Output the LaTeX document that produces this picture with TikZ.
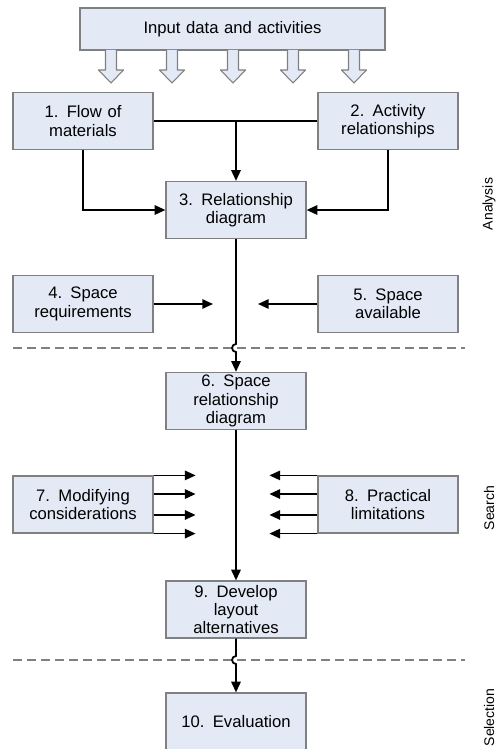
\documentclass[tikz,border=0pt]{standalone}
\usepackage{fontspec}
\setmainfont{Liberation Sans}
\usetikzlibrary{arrows.meta,calc}
\definecolor{boxfill}{RGB}{227,234,246}
\definecolor{boxedge}{RGB}{128,128,128}
\tikzset{
      stepbox/.style={
        draw=boxedge,
        line width=0.9pt,
        fill=boxfill,
        minimum width=105pt,
        minimum height=42.75pt,
        text width=100pt,
        align=center,
        inner sep=2pt,
        font=\fontsize{12.5}{13.8}\selectfont
      },
      flowline/.style={-{Triangle[length=8pt,width=7pt]}, line width=1.3pt},
      plainline/.style={line width=1.3pt},
      sepline/.style={draw=gray, line width=1.1pt, dash pattern=on 6.5pt off 4pt},
      blockarrow/.style={draw=boxedge, line width=0.8pt, fill=boxfill, line join=round},
      phase/.style={rotate=90, font=\fontsize{10.5}{12}\selectfont}
    }

\begin{document}
\begin{tikzpicture}[x=0.75pt,y=-0.75pt]
    \useasboundingbox (0,0) rectangle (498,749);
    \node[stepbox, minimum width=228.75pt, minimum height=31.5pt, text width=220pt] (inp) at (232.5,29) {Input data and activities};
    \foreach \x in {111,172,233,293,354}
      \draw[blockarrow] (\x-5.5,50) -- (\x-5.5,70) -- (\x-12.5,70) -- (\x,83) -- (\x+12.5,70) -- (\x+5.5,70) -- (\x+5.5,50);
    \node[stepbox] (s1) at (83,121) {1.\enspace Flow of\\materials};
    \node[stepbox] (s2) at (388,121) {2.\enspace Activity\\relationships};
    \node[stepbox] (s3) at (236,210) {3.\enspace Relationship\\diagram};
    \node[stepbox] (s4) at (83,304) {4.\enspace Space\\requirements};
    \node[stepbox] (s5) at (388,304) {5.\enspace Space\\available};
    \node[stepbox] (s6) at (236,401) {6.\enspace Space\\relationship\\diagram};
    \node[stepbox] (s7) at (83,504.5) {7.\enspace Modifying\\considerations};
    \node[stepbox] (s8) at (388,504.5) {8.\enspace Practical\\limitations};
    \node[stepbox] (s9) at (236,609.5) {9.\enspace Develop\\layout\\alternatives};
    \node[stepbox] (s10) at (236,721.5) {10.\enspace Evaluation};
    \node[phase] (ph1) at (489,204) {Analysis};
    \node[phase] (ph2) at (489,508) {Search};
    \node[phase, anchor=east] (ph3) at (489,684) {Selection};
    \draw[sepline] (13,348) -- (465,348);
    \draw[sepline] (13,660) -- (465,660);
    \coordinate (j1) at (s3.north |- s1.east);
    \coordinate (e4) at (213,304);
    \coordinate (e5) at (258,304);
    \coordinate (h1) at (236,348);
    \coordinate (h2) at (236,660);
    \draw[plainline] (s1.east) -- (s2.west);
    \draw[flowline] (j1) -- (s3.north);
    \draw[flowline] (s1.south) |- (s3.west);
    \draw[flowline] (s2.south) |- (s3.east);
    \draw[flowline] (s4.east) -- (e4);
    \draw[flowline] (s5.west) -- (e5);
    \draw[flowline] (s3.south) -- ([yshift=3pt]h1) arc[start angle=90, end angle=270, radius=3pt] -- (s6.north);
    \draw[flowline] (s6.south) -- (s9.north);
    \draw[flowline] (s9.south) -- ([yshift=3pt]h2) arc[start angle=90, end angle=270, radius=3pt] -- (s10.north);
    \foreach \f [count=\i] in {0,0.32,0.68,1} {
      \coordinate (m\i) at ($(s7.north east)!\f!(s7.south east)$);
      \coordinate (p\i) at ($(s8.north west)!\f!(s8.south west)$);
      \draw[flowline] (m\i) -- ++(42,0);
      \draw[flowline] (p\i) -- ++(-48,0);
    }
    \end{tikzpicture}
\end{document}
